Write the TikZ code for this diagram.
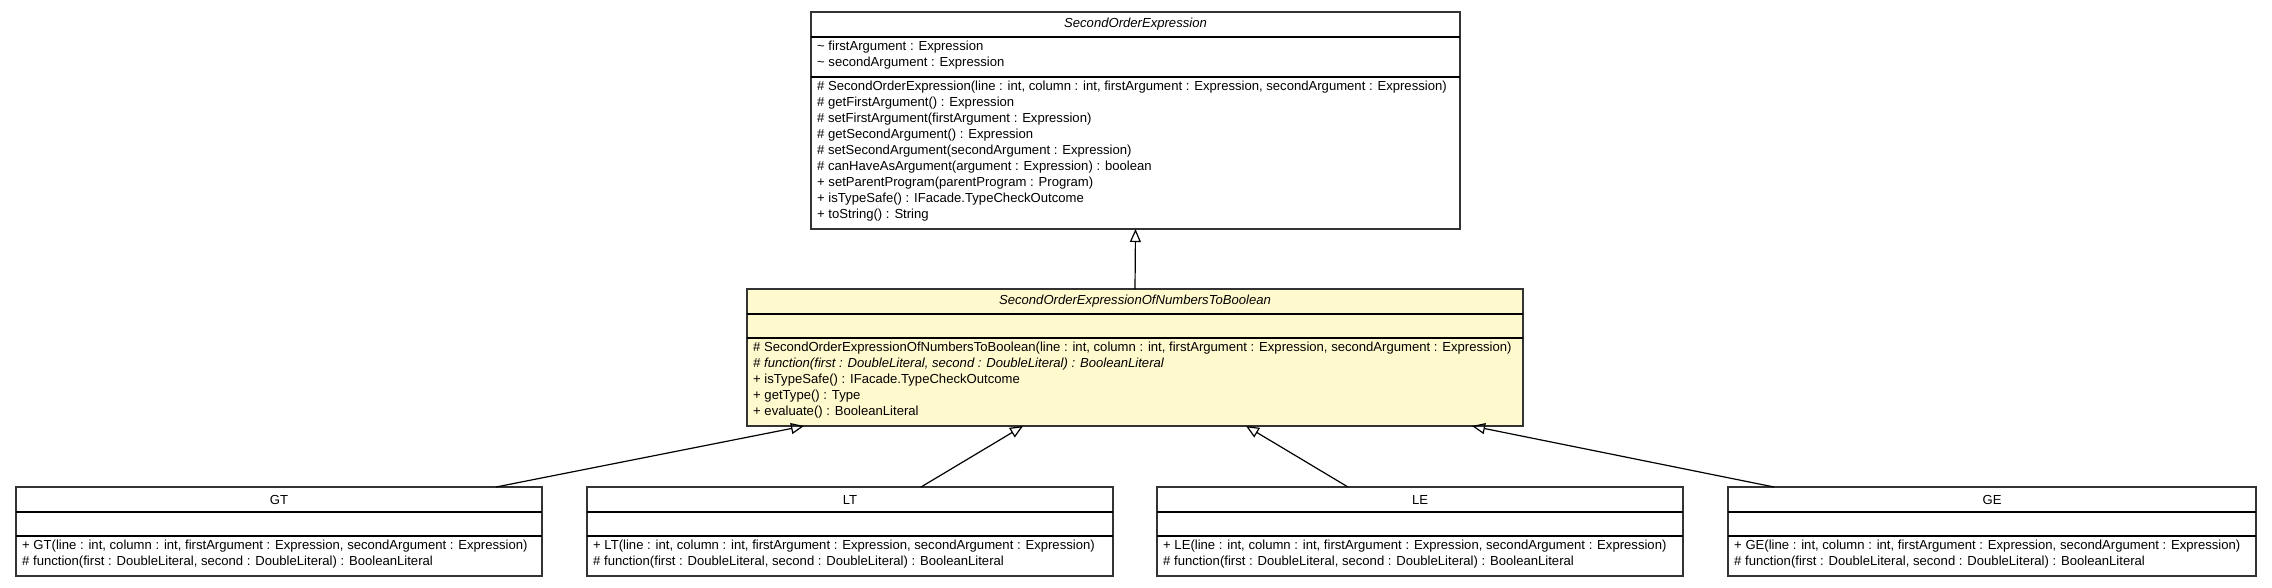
\documentclass[tikz,border=0pt]{standalone}
\usepackage{fontspec}
\setmainfont{Liberation Sans}
\usepackage{xcolor}
\usetikzlibrary{arrows.meta}

\definecolor{abstractfill}{RGB}{255,250,205}

\tikzset{
  classbox/.style={draw=black!80, line width=1.4pt, inner sep=0pt, outer sep=0pt},
  divider/.style={draw=black, line width=1.3pt},
  classname/.style={inner sep=0pt, font=\fontsize{13.1}{16}\selectfont},
  members/.style={anchor=north west, align=left, inner xsep=6pt, inner ysep=4pt,
    font=\fontsize{13.1}{16}\selectfont, execute at begin node=\strut},
  extends/.style={-{Triangle[open,length=13pt,width=11pt]}, line width=1.2pt},
}

\begin{document}
\begin{tikzpicture}[x=1pt,y=-1pt]
\useasboundingbox (0,0) rectangle (2272,587);

% parent class
\node[classbox, minimum width=649pt, minimum height=217pt] (soe) at (1135.5,120.5) {};
\draw[divider] ([yshift=-25pt]soe.north west) -- ([yshift=-25pt]soe.north east);
\draw[divider] ([yshift=-65pt]soe.north west) -- ([yshift=-65pt]soe.north east);
\node[classname] (soe-name) at ([yshift=-12.5pt]soe.north) {\textit{SecondOrderExpression}};
\node[members] (soe-attr) at ([yshift=-25pt]soe.north west) {\textasciitilde{} firstArgument : Expression\\
\textasciitilde{} secondArgument : Expression};
\node[members] (soe-ops) at ([yshift=-65pt]soe.north west) {\# SecondOrderExpression(line : int, column : int, firstArgument : Expression, secondArgument : Expression)\\
\# getFirstArgument() : Expression\\
\# setFirstArgument(firstArgument : Expression)\\
\# getSecondArgument() : Expression\\
\# setSecondArgument(secondArgument : Expression)\\
\# canHaveAsArgument(argument : Expression) : boolean\\
+ setParentProgram(parentProgram : Program)\\
+ isTypeSafe() : IFacade.TypeCheckOutcome\\
+ toString() : String};

% abstract class in the middle
\node[classbox, fill=abstractfill, minimum width=776pt, minimum height=137pt] (num) at (1135,357.5) {};
\draw[divider] ([yshift=-25pt]num.north west) -- ([yshift=-25pt]num.north east);
\draw[divider] ([yshift=-49pt]num.north west) -- ([yshift=-49pt]num.north east);
\node[classname] (num-name) at ([yshift=-12.5pt]num.north) {\textit{SecondOrderExpressionOfNumbersToBoolean}};
\node[members] (num-ops) at ([yshift=-49pt]num.north west) {\# SecondOrderExpressionOfNumbersToBoolean(line : int, column : int, firstArgument : Expression, secondArgument : Expression)\\
\textit{\# function(first : DoubleLiteral, second : DoubleLiteral) : BooleanLiteral}\\
+ isTypeSafe() : IFacade.TypeCheckOutcome\\
+ getType() : Type\\
+ evaluate() : BooleanLiteral};

% subclasses
\node[classbox, minimum width=526pt, minimum height=89pt] (gt) at (279,531.5) {};
\draw[divider] ([yshift=-25pt]gt.north west) -- ([yshift=-25pt]gt.north east);
\draw[divider] ([yshift=-49pt]gt.north west) -- ([yshift=-49pt]gt.north east);
\node[classname] (gt-name) at ([yshift=-12.5pt]gt.north) {GT};
\node[members] (gt-ops) at ([yshift=-49pt]gt.north west) {+ GT(line : int, column : int, firstArgument : Expression, secondArgument : Expression)\\
\# function(first : DoubleLiteral, second : DoubleLiteral) : BooleanLiteral};

\node[classbox, minimum width=526pt, minimum height=89pt] (lt) at (850,531.5) {};
\draw[divider] ([yshift=-25pt]lt.north west) -- ([yshift=-25pt]lt.north east);
\draw[divider] ([yshift=-49pt]lt.north west) -- ([yshift=-49pt]lt.north east);
\node[classname] (lt-name) at ([yshift=-12.5pt]lt.north) {LT};
\node[members] (lt-ops) at ([yshift=-49pt]lt.north west) {+ LT(line : int, column : int, firstArgument : Expression, secondArgument : Expression)\\
\# function(first : DoubleLiteral, second : DoubleLiteral) : BooleanLiteral};

\node[classbox, minimum width=526pt, minimum height=89pt] (le) at (1420,531.5) {};
\draw[divider] ([yshift=-25pt]le.north west) -- ([yshift=-25pt]le.north east);
\draw[divider] ([yshift=-49pt]le.north west) -- ([yshift=-49pt]le.north east);
\node[classname] (le-name) at ([yshift=-12.5pt]le.north) {LE};
\node[members] (le-ops) at ([yshift=-49pt]le.north west) {+ LE(line : int, column : int, firstArgument : Expression, secondArgument : Expression)\\
\# function(first : DoubleLiteral, second : DoubleLiteral) : BooleanLiteral};

\node[classbox, minimum width=528pt, minimum height=89pt] (ge) at (1992,531.5) {};
\draw[divider] ([yshift=-25pt]ge.north west) -- ([yshift=-25pt]ge.north east);
\draw[divider] ([yshift=-49pt]ge.north west) -- ([yshift=-49pt]ge.north east);
\node[classname] (ge-name) at ([yshift=-12.5pt]ge.north) {GE};
\node[members] (ge-ops) at ([yshift=-49pt]ge.north west) {+ GE(line : int, column : int, firstArgument : Expression, secondArgument : Expression)\\
\# function(first : DoubleLiteral, second : DoubleLiteral) : BooleanLiteral};

% generalisations
\draw[extends] (num.north) -- (soe.south);
\draw[extends] ([xshift=217pt]gt.north) -- ([xshift=-331pt]num.south);
\draw[extends] ([xshift=71pt]lt.north) -- ([xshift=-112pt]num.south);
\draw[extends] ([xshift=-72pt]le.north) -- ([xshift=111pt]num.south);
\draw[extends] ([xshift=-218pt]ge.north) -- ([xshift=337pt]num.south);
\end{tikzpicture}
\end{document}
